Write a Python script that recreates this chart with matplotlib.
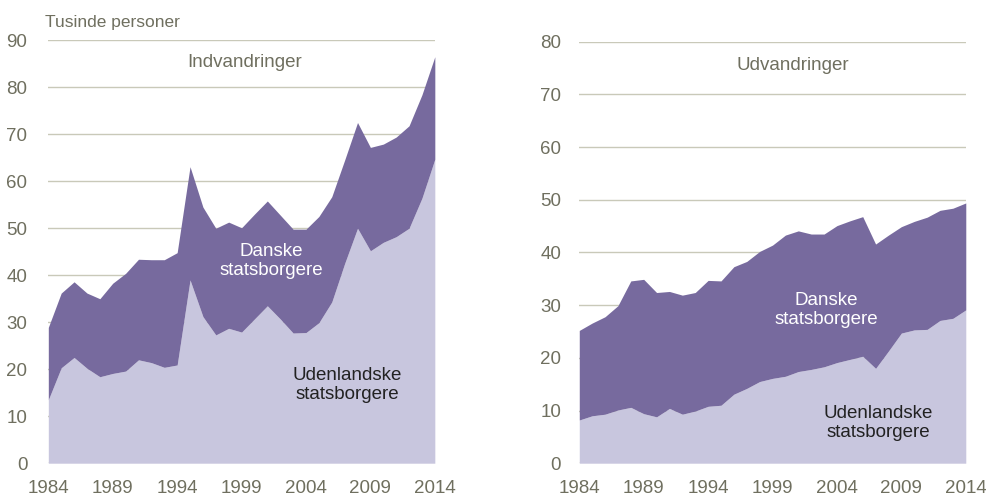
import matplotlib
matplotlib.use('Agg')
import matplotlib.pyplot as plt
import numpy as np

years = np.arange(1984, 2015)

# Indvandringer (tusinde personer)
ind_udenlandske = [13.5, 20.3, 22.5, 20.2, 18.4, 19.1, 19.6, 22.0, 21.4, 20.4, 20.9,
                   39.0, 31.2, 27.3, 28.7, 27.9, 30.7, 33.5, 30.7, 27.7, 27.8,
                   29.9, 34.3, 42.5, 50.0, 45.2, 47.0, 48.2, 50.0, 56.4, 64.7]
ind_i_alt = [28.9, 36.2, 38.6, 36.2, 35.0, 38.3, 40.4, 43.4, 43.3, 43.3, 44.8,
             63.1, 54.5, 50.0, 51.3, 50.1, 53.0, 55.8, 52.8, 49.8, 49.8,
             52.5, 56.7, 64.5, 72.5, 67.2, 67.9, 69.4, 71.8, 78.4, 86.5]

# Udvandringer (tusinde personer)
ud_udenlandske = [8.2, 9.0, 9.3, 10.1, 10.6, 9.4, 8.8, 10.4, 9.3, 9.9, 10.8,
                  11.0, 13.1, 14.2, 15.5, 16.1, 16.5, 17.4, 17.8, 18.3, 19.1,
                  19.7, 20.3, 18.0, 21.3, 24.7, 25.3, 25.4, 27.1, 27.5, 29.1]
ud_i_alt = [25.2, 26.6, 27.8, 29.9, 34.6, 34.9, 32.4, 32.6, 31.9, 32.4, 34.7,
            34.6, 37.3, 38.3, 40.2, 41.4, 43.3, 44.1, 43.5, 43.5, 45.1,
            46.0, 46.8, 41.6, 43.3, 44.9, 45.9, 46.7, 48.0, 48.4, 49.4]

year_ticks = [1984, 1989, 1994, 1999, 2004, 2009, 2014]

DARK = '#776a9e'
LIGHT = '#c8c6de'
GRID = '#c9c9b9'
TXT = '#6f6f5f'

plt.rcParams['font.family'] = ['Liberation Sans', 'DejaVu Sans']

fig = plt.figure(figsize=(9.86, 4.97), dpi=100)
ax1 = fig.add_axes([0.049, 0.068, 0.392, 0.851])
ax2 = fig.add_axes([0.5875, 0.068, 0.392, 0.848])


def draw_panel(ax, foreign, total, ymax, ypad):
    ax.fill_between(years, 0, foreign, color=LIGHT, lw=0, zorder=2)
    ax.fill_between(years, foreign, total, color=DARK, lw=0, zorder=2)
    ax.set_xlim(1984, 2014)
    ax.set_ylim(0, ymax)
    ax.set_yticks(np.arange(0, ymax + 1, 10))
    ax.set_xticks(year_ticks)
    ax.yaxis.grid(True, color=GRID, lw=1, zorder=0)
    ax.set_axisbelow(True)
    for s in ax.spines.values():
        s.set_visible(False)
    ax.tick_params(axis='both', length=0, labelsize=13.5, labelcolor=TXT)
    ax.tick_params(axis='y', pad=ypad)
    ax.tick_params(axis='x', pad=12)


draw_panel(ax1, ind_udenlandske, ind_i_alt, 90, 15)
draw_panel(ax2, ud_udenlandske, ud_i_alt, 80, 13)

fig.text(45 / 986, 1 - 22 / 497, 'Tusinde personer', fontsize=12.5, color=TXT,
         ha='left', va='center')

ax1.text(1999.2, 85.2, 'Indvandringer', fontsize=13.5, color=TXT, ha='center', va='center')
ax2.text(2000.6, 75.4, 'Udvandringer', fontsize=13.5, color=TXT, ha='center', va='center')

ax1.text(2001.3, 43.0, 'Danske\nstatsborgere', fontsize=13.5, color='white',
         ha='center', va='center', linespacing=1.15)
ax1.text(2007.2, 16.6, 'Udenlandske\nstatsborgere', fontsize=13.5, color='#222222',
         ha='center', va='center', linespacing=1.15)
ax2.text(2003.2, 29.1, 'Danske\nstatsborgere', fontsize=13.5, color='white',
         ha='center', va='center', linespacing=1.15)
ax2.text(2007.2, 7.6, 'Udenlandske\nstatsborgere', fontsize=13.5, color='#222222',
         ha='center', va='center', linespacing=1.15)

fig.savefig('out.png', dpi=100)
